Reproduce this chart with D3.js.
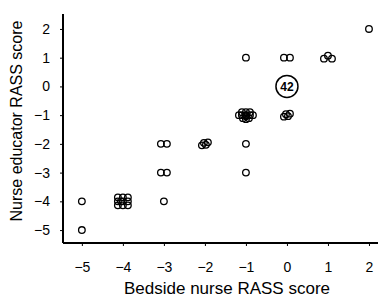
<!DOCTYPE html>
<html>
<head>
<meta charset="utf-8">
<script src="https://cdn.jsdelivr.net/npm/d3@7"></script>
<style>
body { margin: 0; background: #fff; }
text { font-family: Arial, "Liberation Sans", sans-serif; fill: #000; }
</style>
</head>
<body>
<div id="chart"></div>
<script>
var width = 381;
var height = 301;

// bedside nurse score, educator score, number of patients at that pair
var bedside  = [-5, -5, -4, -3, -3, -3, -2, -1, -1, -1, -1, 0, 0, 0, 1, 2];
var educator = [-4, -5, -4, -2, -3, -4, -2, 1, -1, -2, -3, 1, 0, -1, 1, 2];
var counts   = [1, 1, 10, 2, 2, 1, 4, 1, 12, 1, 1, 2, 42, 4, 3, 1];

var xTicks = [-5, -4, -3, -2, -1, 0, 1, 2];
var yTicks = [2, 1, 0, -1, -2, -3, -4, -5];

var xTitle = 'Bedside nurse RASS score';
var yTitle = 'Nurse educator RASS score';

// how overlapping circles are spread (pixels), by count
var spread = {
    1: [[0, 0]],
    2: [[-3, 0], [3, 0]],
    3: [[-4, 1], [4, 1], [0, -2]],
    4: [[-3, 1.5], [3, -1.5], [-1, -1], [1, 1]],
    10: [[-5, -4], [0, -4], [5, -4], [-5, 0], [0, 0], [5, 0], [-5, 4], [0, 4], [5, 4], [-2, 0]],
    12: [[-4, -3], [0, -3], [4, -3], [-7, 0], [-4, 0], [0, 0], [4, 0], [7, 0], [-3, 3], [0, 4], [3, 3], [0, 1]]
};

var bigCount = 42;

var x = d3.scaleLinear().domain([-5.46, 2.22]).range([63, 378]);
var y = d3.scaleLinear().domain([-5.45, 2.52]).range([243, 14]);

var svg = d3.select('#chart').append('svg')
    .attr('width', width)
    .attr('height', height);

// axes
var xAxis = svg.append('g')
    .attr('transform', 'translate(0,243)')
    .call(d3.axisBottom(x).tickValues(xTicks).tickSize(3).tickPadding(16).tickFormat(d3.format('d')));
var yAxis = svg.append('g')
    .attr('transform', 'translate(63,0)')
    .call(d3.axisLeft(y).tickValues(yTicks).tickSize(3).tickPadding(10).tickFormat(d3.format('d')));

[xAxis, yAxis].forEach(function (ax) {
    ax.select('.domain').attr('stroke', '#000').attr('stroke-width', 2);
    ax.selectAll('.tick line').attr('stroke', '#000').attr('stroke-width', 1);
    ax.selectAll('.tick text')
        .attr('font-family', 'Arial, "Liberation Sans", sans-serif')
        .attr('font-size', 14)
        .attr('fill', '#000');
});
xAxis.select('.domain').attr('d', 'M' + x.range()[0] + ',0H' + x.range()[1]);
yAxis.select('.domain').attr('d', 'M0,' + y.range()[0] + 'V' + y.range()[1]);

// points
var points = [];
bedside.forEach(function (b, i) {
    if (counts[i] === bigCount) {
        return;
    }
    spread[counts[i]].forEach(function (off) {
        points.push({ cx: x(b) + off[0], cy: y(educator[i]) + off[1] });
    });
});

svg.append('g').selectAll('circle')
    .data(points)
    .enter()
    .append('circle')
    .attr('cx', function (d) { return d.cx; })
    .attr('cy', function (d) { return d.cy; })
    .attr('r', 3.3)
    .attr('fill', 'none')
    .attr('stroke', '#000')
    .attr('stroke-width', 1.3);

// the big pile at 0,0 shown as a labelled circle
var bigIndex = counts.indexOf(bigCount);
var big = svg.append('g')
    .attr('transform', 'translate(' + x(bedside[bigIndex]) + ',' + y(educator[bigIndex]) + ')');
big.append('circle')
    .attr('r', 11)
    .attr('fill', '#fff')
    .attr('stroke', '#000')
    .attr('stroke-width', 1.5);
big.append('text')
    .attr('text-anchor', 'middle')
    .attr('dy', '0.36em')
    .attr('font-size', 12)
    .attr('font-weight', 'bold')
    .text(counts[bigIndex]);

// titles
svg.append('text')
    .attr('x', 227)
    .attr('y', 294)
    .attr('text-anchor', 'middle')
    .attr('font-size', 17)
    .text(xTitle);

svg.append('text')
    .attr('transform', 'translate(22,121) rotate(-90)')
    .attr('text-anchor', 'middle')
    .attr('font-size', 16)
    .text(yTitle);
</script>
</body>
</html>
